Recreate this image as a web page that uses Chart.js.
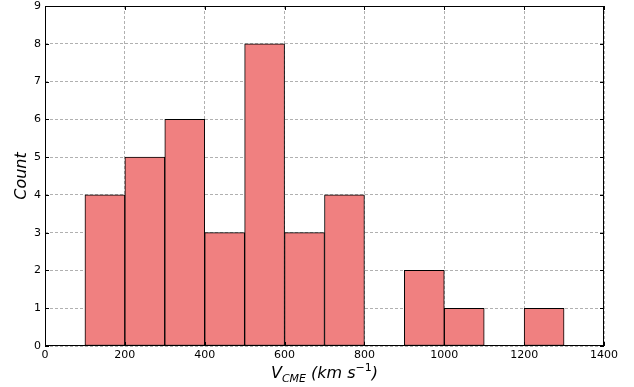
<!DOCTYPE html>
<html>
<head>
<meta charset="utf-8">
<script src="https://cdn.jsdelivr.net/npm/chart.js@4/dist/chart.umd.min.js"></script>
<style>
  html, body { margin: 0; padding: 0; background: #fff; }
  #wrap { width: 634px; height: 387px; }
</style>
</head>
<body>
<div id="wrap"><canvas id="histo" width="634" height="387"></canvas></div>
<script>
// Bordes izquierdos de cada bin (km/s) y conteos
const binStarts = [100, 200, 300, 400, 500, 600, 700, 800, 900, 1000, 1100, 1200];
const counts = [4, 5, 6, 3, 8, 3, 4, 0, 2, 1, 0, 1];
const binWidth = 100;
const xTicks = [0, 200, 400, 600, 800, 1000, 1200, 1400];
const yTicks = [0, 1, 2, 3, 4, 5, 6, 7, 8, 9];

const fontFam = "'DejaVu Sans', sans-serif";

// Ticks hacia adentro, marco completo y títulos de ejes
const framePlugin = {
    id: "frame",
    afterDraw(chart) {
        const { ctx, chartArea: a, scales } = chart;
        ctx.save();
        ctx.strokeStyle = "#000";
        ctx.lineWidth = 1;
        ctx.strokeRect(a.left + 0.5, a.top + 0.5, a.right - a.left - 1, a.bottom - a.top - 1);
        ctx.beginPath();
        xTicks.forEach(v => {
            const x = Math.round(scales.x.getPixelForValue(v)) + 0.5;
            ctx.moveTo(x, a.bottom);
            ctx.lineTo(x, a.bottom - 4);
            ctx.moveTo(x, a.top);
            ctx.lineTo(x, a.top + 4);
        });
        yTicks.forEach(v => {
            const y = Math.round(scales.y.getPixelForValue(v)) + 0.5;
            ctx.moveTo(a.left, y);
            ctx.lineTo(a.left + 4, y);
            ctx.moveTo(a.right, y);
            ctx.lineTo(a.right - 4, y);
        });
        ctx.stroke();

        // Título eje Y
        ctx.fillStyle = "#000";
        ctx.font = "italic 16px " + fontFam;
        ctx.textAlign = "center";
        ctx.textBaseline = "middle";
        ctx.translate(22, (a.top + a.bottom) / 2);
        ctx.rotate(-Math.PI / 2);
        ctx.fillText("Count", 0, 0);
        ctx.setTransform(1, 0, 0, 1, 0, 0);

        // Título eje X: V_CME (km s^-1)
        const parts = [
            { t: "V", f: "italic 16px " + fontFam, dy: 0 },
            { t: "CME", f: "italic 11px " + fontFam, dy: 4 },
            { t: " (km s", f: "italic 16px " + fontFam, dy: 0 },
            { t: "\u22121", f: "11px " + fontFam, dy: -7 },
            { t: ")", f: "italic 16px " + fontFam, dy: 0 }
        ];
        let total = 0;
        parts.forEach(p => { ctx.font = p.f; p.w = ctx.measureText(p.t).width; total += p.w; });
        let x = (a.left + a.right) / 2 - total / 2;
        const base = 378;
        ctx.textAlign = "left";
        ctx.textBaseline = "alphabetic";
        parts.forEach(p => {
            ctx.font = p.f;
            ctx.fillText(p.t, x, base + p.dy);
            x += p.w;
        });
        ctx.restore();
    }
};

const ctx = document.getElementById("histo").getContext("2d");
new Chart(ctx, {
    type: "bar",
    data: {
        datasets: [{
            data: binStarts.map((s, i) => ({ x: s + binWidth / 2, y: counts[i] })),
            backgroundColor: "#f08080",
            borderColor: "#000",
            borderWidth: 1,
            borderSkipped: false,
            barPercentage: 1,
            categoryPercentage: 1
        }]
    },
    options: {
        responsive: false,
        animation: false,
        layout: { padding: { top: 6, right: 30, left: 0, bottom: 0 } },
        plugins: { legend: { display: false }, tooltip: { enabled: false } },
        scales: {
            x: {
                type: "linear",
                min: 0,
                max: 1400,
                offset: false,
                afterBuildTicks: s => { s.ticks = xTicks.map(v => ({ value: v })); },
                afterFit: s => { s.height = 41; s.paddingLeft = 0; s.paddingRight = 0; },
                ticks: { color: "#000", font: { family: fontFam, size: 11 }, padding: 3, maxRotation: 0, callback: v => String(v) },
                grid: { color: "#b0b0b0", offset: false, drawTicks: false, tickLength: 0 },
                border: { display: false, dash: [3, 2] }
            },
            y: {
                min: 0,
                max: 9,
                afterBuildTicks: s => { s.ticks = yTicks.map(v => ({ value: v })); },
                afterFit: s => { s.width = 45; s.paddingTop = 0; s.paddingBottom = 0; },
                ticks: { color: "#000", font: { family: fontFam, size: 11 }, padding: 4, callback: v => String(v) },
                grid: { color: "#b0b0b0", drawTicks: false, tickLength: 0 },
                border: { display: false, dash: [3, 2] }
            }
        }
    },
    plugins: [framePlugin]
});
</script>
</body>
</html>
